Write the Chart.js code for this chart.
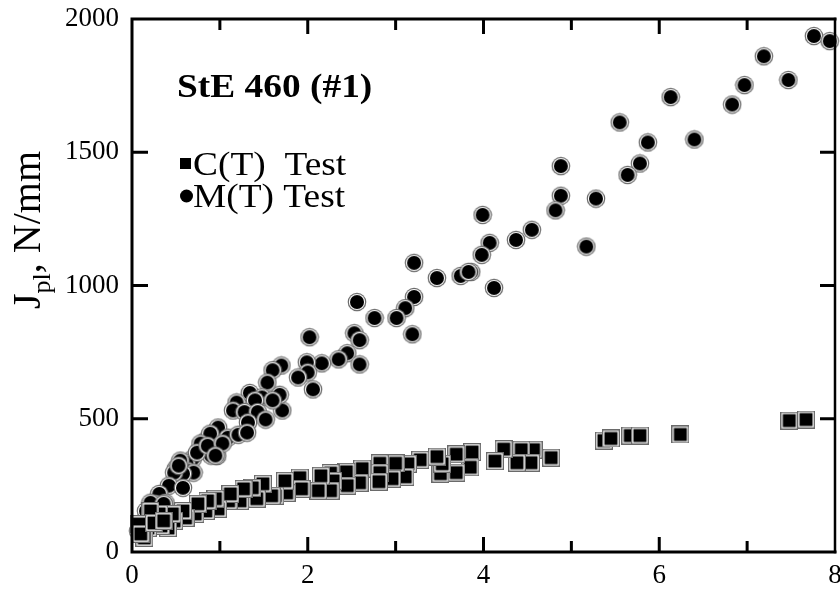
<!DOCTYPE html>
<html>
<head>
<meta charset="utf-8">
<script src="https://cdn.jsdelivr.net/npm/chart.js@4.4.1/dist/chart.umd.min.js"></script>
<style>
  html, body { margin: 0; padding: 0; background: #fff; }
  #c { display: block; }
</style>
</head>
<body>
<canvas id="c" width="840" height="600"></canvas>
<script>
// C(T) test results: crack extension (x) vs J_pl (N/mm)
const ctX = [7.48, 7.67, 6.24, 5.67, 5.78, 5.37, 5.45, 4.77, 4.57, 4.43, 4.54, 4.38, 4.23, 4.13, 3.87, 3.85,
  3.69, 3.69, 3.51, 3.53, 3.47, 3.28, 3.14, 3.11, 3.00, 2.96, 2.82, 2.82, 2.81, 2.62, 2.59, 2.44,
  2.45, 2.26, 2.29, 2.26, 2.15, 2.12, 1.91, 1.93, 1.76, 1.74, 1.63, 1.59, 1.49, 1.42, 1.37, 1.23,
  1.27, 1.10, 1.12, 0.98, 0.95, 0.84, 0.86, 0.72, 0.75, 0.61, 0.58, 0.48, 0.41, 0.46, 0.31, 0.33,
  0.21, 0.18, 0.14, 0.08, 0.10, 0.25, 0.36];
const ctY = [493, 497, 441, 437, 437, 418, 426, 354, 384, 384, 335, 335, 386, 341, 375, 318,
  367, 298, 294, 331, 358, 346, 331, 282, 333, 275, 333, 298, 264, 313, 260, 301,
  249, 296, 267, 230, 286, 230, 279, 237, 222, 267, 211, 211, 256, 200, 241, 192,
  237, 192, 218, 162, 200, 154, 192, 143, 181, 128, 154, 117, 90, 143, 143, 98,
  154, 90, 53, 105, 68, 109, 117];

// M(T) test results
const mtX = [7.76, 7.94, 7.19, 7.47, 6.97, 6.83, 6.13, 6.40, 5.55, 5.87, 5.78, 5.64, 4.88, 4.88, 4.82, 5.28,
  5.17, 3.99, 4.07, 3.98, 3.86, 4.37, 4.55, 4.12, 3.21, 3.47, 3.74, 3.83, 3.21, 3.11, 3.01, 2.76,
  3.19, 2.56, 2.53, 2.59, 2.45, 2.35, 2.59, 2.16, 1.99, 2.00, 1.89, 2.06, 2.02, 1.70, 1.71, 1.68,
  1.60, 1.54, 1.34, 1.48, 1.60, 1.40, 1.19, 1.15, 1.28, 1.43, 1.32, 1.52, 0.98, 0.84, 1.09, 1.21,
  1.31, 0.89, 0.76, 0.90, 0.97, 0.69, 0.62, 0.78, 0.74, 0.50, 0.63, 0.70, 0.58, 0.48, 0.55, 0.42,
  0.58, 0.31, 0.27, 0.38, 0.19, 0.12, 0.07, 0.16, 0.21, 0.36, 0.53, 0.86, 1.03, 0.95];
const mtY = [1936, 1917, 1860, 1771, 1752, 1679, 1707, 1548, 1612, 1537, 1458, 1415, 1448, 1337, 1282, 1326,
  1146, 1265, 1160, 1115, 1051, 1171, 1209, 991, 1085, 1028, 1036, 1051, 957, 915, 878, 878,
  817, 938, 821, 795, 746, 723, 704, 708, 712, 674, 655, 610, 806, 700, 531, 590,
  682, 636, 597, 580, 569, 569, 561, 531, 525, 525, 486, 497, 467, 418, 429, 440,
  448, 444, 380, 362, 360, 350, 335, 407, 373, 313, 305, 298, 294, 298, 343, 249,
  241, 218, 181, 185, 147, 109, 79, 154, 185, 181, 324, 399, 407, 362];

const xTicks = [0, 2, 4, 6, 8];
const yTicks = [0, 500, 1000, 1500, 2000];
const seriesNames = ['C(T)  Test', 'M(T) Test'];
const chartTitle = 'StE 460 (#1)';

const SERIF = '"Liberation Serif", "Times New Roman", serif';

// marker sprites: black core, thin white ring, grey rim
function circleSprite() {
  const s = document.createElement('canvas');
  s.width = 20; s.height = 20;
  const g = s.getContext('2d');
  const disc = (r, col) => { g.beginPath(); g.arc(10, 10, r, 0, Math.PI * 2); g.fillStyle = col; g.fill(); };
  disc(9.3, '#6a6a6a');
  disc(8.1, '#ffffff');
  disc(7.0, '#000000');
  return s;
}
function squareSprite() {
  const s = document.createElement('canvas');
  s.width = 18; s.height = 18;
  const g = s.getContext('2d');
  g.fillStyle = '#6a6a6a'; g.fillRect(0, 0, 18, 18);
  g.fillStyle = '#ffffff'; g.fillRect(1.3, 1.3, 15.4, 15.4);
  g.fillStyle = '#000000'; g.fillRect(2.5, 2.5, 13, 13);
  return s;
}

const toPoints = (xs, ys) => xs.map((x, i) => ({ x: x, y: ys[i] }));

// frame with inward tick marks on all four sides
const framePlugin = {
  id: 'frame',
  afterDraw(chart) {
    const { ctx, chartArea: a, scales } = chart;
    const sx = scales.x, sy = scales.y;
    ctx.save();
    ctx.strokeStyle = '#000';
    ctx.lineCap = 'square';
    ctx.lineWidth = 3;
    ctx.beginPath();
    ctx.moveTo(a.left, a.top); ctx.lineTo(a.right, a.top);
    ctx.moveTo(a.left, a.top); ctx.lineTo(a.left, a.bottom);
    ctx.moveTo(a.left, a.bottom); ctx.lineTo(a.right, a.bottom);
    ctx.stroke();
    ctx.lineWidth = 2.5;
    ctx.beginPath();
    ctx.moveTo(a.right, a.top); ctx.lineTo(a.right, a.bottom);
    ctx.stroke();

    ctx.lineWidth = 3;
    ctx.lineCap = 'butt';
    ctx.beginPath();
    for (let v = 1; v < 8; v++) {
      const px = sx.getPixelForValue(v);
      const len = v % 2 === 0 ? 15 : 11;
      ctx.moveTo(px, a.bottom); ctx.lineTo(px, a.bottom - len);
      ctx.moveTo(px, a.top); ctx.lineTo(px, a.top + len);
    }
    for (let v = 500; v < 2000; v += 500) {
      const py = sy.getPixelForValue(v);
      ctx.moveTo(a.left, py); ctx.lineTo(a.left + 16, py);
      ctx.moveTo(a.right, py); ctx.lineTo(a.right - 15, py);
    }
    ctx.stroke();
    ctx.restore();
  }
};

// in-plot title, legend and the y axis title with subscript
const labelPlugin = {
  id: 'labels',
  afterDraw(chart) {
    const ctx = chart.ctx;
    const stretch = 1.1;
    ctx.save();
    ctx.fillStyle = '#000';
    ctx.textBaseline = 'alphabetic';
    ctx.textAlign = 'left';

    const stretchedText = (txt, x, y, font) => {
      ctx.save();
      ctx.font = font;
      ctx.translate(x, y);
      ctx.scale(stretch, 1);
      ctx.fillText(txt, 0, 0);
      ctx.restore();
    };

    stretchedText(chartTitle, 177, 97, 'bold 34px ' + SERIF);

    // legend
    ctx.fillRect(180, 158, 11, 11);
    stretchedText(seriesNames[0], 193, 175, '34px ' + SERIF);
    ctx.beginPath();
    ctx.arc(186.5, 196, 6.5, 0, Math.PI * 2);
    ctx.fill();
    stretchedText(seriesNames[1], 193, 207, '34px ' + SERIF);

    // y axis title: J_pl, N/mm
    ctx.save();
    ctx.translate(40, 309);
    ctx.rotate(-Math.PI / 2);
    ctx.font = '40px ' + SERIF;
    ctx.fillText('J', 0, 0);
    let w = ctx.measureText('J').width;
    ctx.font = '26px ' + SERIF;
    ctx.fillText('pl', w, 10);
    w += ctx.measureText('pl').width;
    ctx.font = '40px ' + SERIF;
    ctx.fillText(', N/mm', w, 0);
    ctx.restore();

    ctx.restore();
  }
};

new Chart(document.getElementById('c'), {
  type: 'scatter',
  data: {
    datasets: [
      {
        label: seriesNames[0],
        data: toPoints(ctX, ctY),
        pointStyle: squareSprite(),
        clip: false
      },
      {
        label: seriesNames[1],
        data: toPoints(mtX, mtY),
        pointStyle: circleSprite(),
        clip: false
      }
    ]
  },
  options: {
    responsive: false,
    animation: false,
    layout: { padding: { top: 19, right: 2, left: 0, bottom: 0 } },
    plugins: {
      legend: { display: false },
      tooltip: { enabled: false },
      title: { display: false }
    },
    scales: {
      x: {
        type: 'linear',
        min: 0, max: 8,
        afterBuildTicks(scale) { scale.ticks = xTicks.map(v => ({ value: v })); },
        afterFit(scale) { scale.height = 48; scale.paddingLeft = 0; scale.paddingRight = 0; },
        grid: { display: false, drawTicks: false },
        border: { display: false },
        ticks: {
          color: '#000',
          padding: 8,
          maxRotation: 0,
          autoSkip: false,
          callback: v => String(v),
          font: { family: SERIF, size: 27 }
        }
      },
      y: {
        type: 'linear',
        min: 0, max: 2000,
        afterBuildTicks(scale) { scale.ticks = yTicks.map(v => ({ value: v })); },
        afterFit(scale) { scale.width = 132; scale.paddingTop = 0; scale.paddingBottom = 0; },
        grid: { display: false, drawTicks: false },
        border: { display: false },
        ticks: {
          color: '#000',
          padding: 13,
          autoSkip: false,
          callback: v => String(v),
          font: { family: SERIF, size: 27 }
        }
      }
    }
  },
  plugins: [framePlugin, labelPlugin]
});
</script>
</body>
</html>
